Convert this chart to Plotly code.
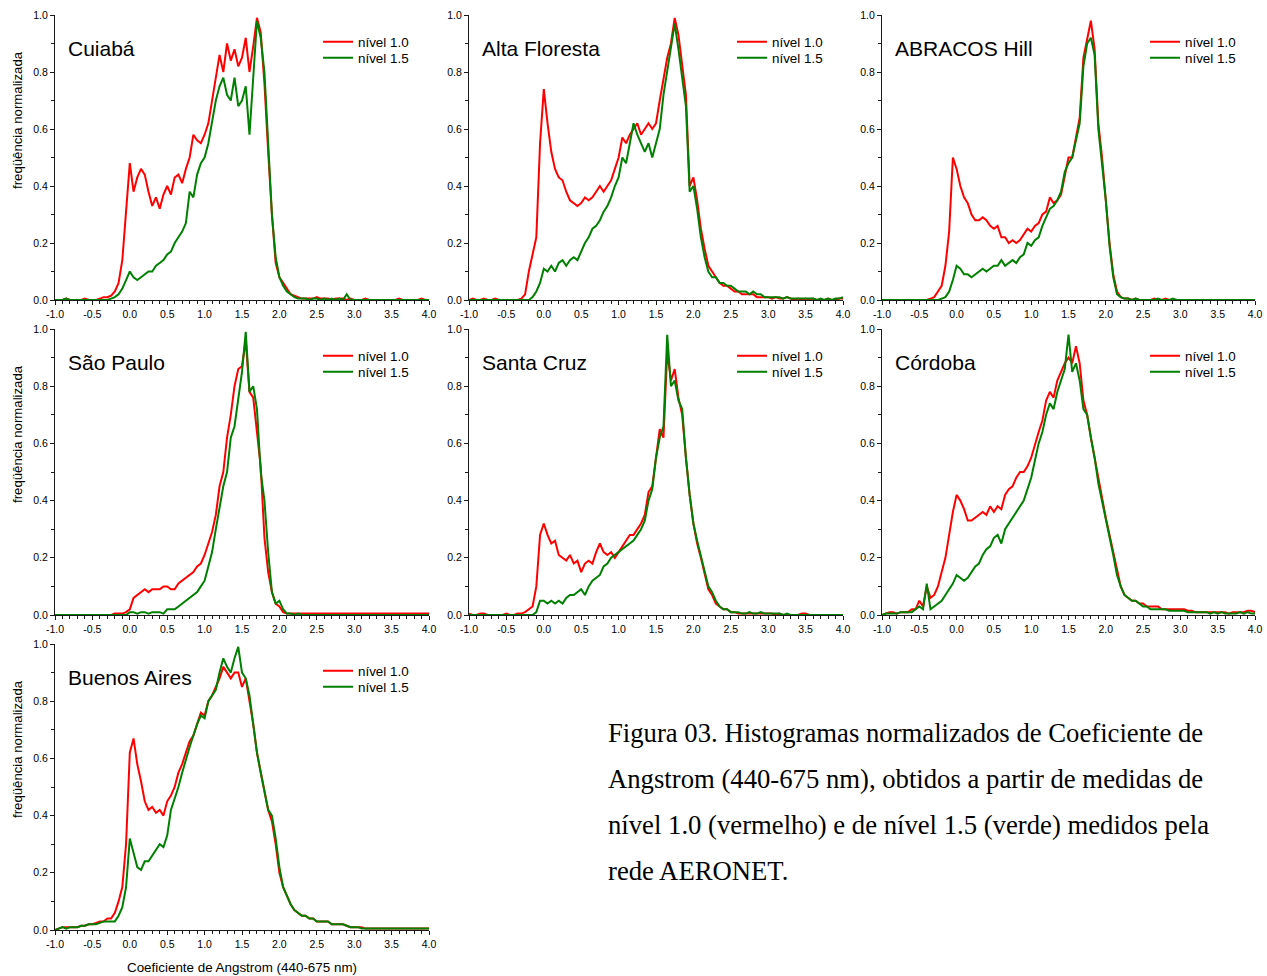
import plotly.graph_objects as go

# Bin centres of the Angstrom coefficient histogram (-1.0 .. 4.0, step 0.05)
angstrom = [round(-1.0 + 0.05 * i, 2) for i in range(101)]

station_names = ["Cuiabá", "Alta Floresta", "ABRACOS Hill", "São Paulo",
                 "Santa Cruz", "Córdoba", "Buenos Aires"]
level_labels = ["nível 1.0", "nível 1.5"]

x_tickvals = [-1.0, -0.5, 0.0, 0.5, 1.0, 1.5, 2.0, 2.5, 3.0, 3.5, 4.0]
x_ticktext = ["-1.0", "-0.5", "0.0", "0.5", "1.0", "1.5", "2.0", "2.5", "3.0", "3.5", "4.0"]
y_tickvals = [0.0, 0.2, 0.4, 0.6, 0.8, 1.0]
y_ticktext = ["0.0", "0.2", "0.4", "0.6", "0.8", "1.0"]

# normalised frequency (x100)
cui_n10 = [0, 0, 0, 0.5, 0, 0, 0, 0, 0.5, 0,
           0, 0, 0.5, 1, 1, 1.5, 3, 6, 14, 30,
           48, 38, 43, 46, 44, 38, 33, 36, 32, 37,
           40, 37, 43, 44, 41, 46, 50, 58, 56, 55,
           58, 62, 70, 77, 86, 80, 90, 84, 88, 82,
           85, 92, 80, 89, 99, 94, 76, 52, 30, 13,
           8, 6, 4, 2, 1.5, 1, 0.5, 0.5, 0.5, 0.5,
           1, 0.5, 0.5, 0.5, 0, 0.5, 0.5, 0.5, 0, 0.5,
           0, 0, 0, 0.5, 0, 0, 0, 0, 0, 0,
           0, 0, 0.5, 0, 0, 0, 0, 0, 0.5, 0,
           0]
cui_n15 = [0, 0, 0, 0.5, 0, 0, 0, 0, 0, 0,
           0, 0, 0, 0, 0, 0.5, 1, 2, 4, 7,
           10, 8, 7, 8, 9, 10, 10, 12, 13, 14,
           16, 17, 20, 22, 24, 27, 38, 36, 44, 48,
           50, 55, 62, 70, 75, 78, 72, 70, 78, 68,
           70, 75, 58, 78, 98, 92, 80, 55, 30, 15,
           8, 5, 3, 2, 1, 0.5, 0.5, 0.5, 0, 0.5,
           0.5, 0, 0.5, 0, 0.5, 0, 0.5, 0, 2, 0,
           0, 0, 0, 0, 0, 0, 0, 0, 0, 0,
           0, 0, 0, 0, 0, 0, 0, 0, 0, 0,
           0]
alt_n10 = [0, 0.5, 0, 0, 0.5, 0, 0, 0.5, 0, 0,
           0, 0, 0, 0, 0.5, 2, 10, 16, 22, 55,
           74, 62, 52, 46, 43, 42, 38, 35, 34, 33,
           34, 36, 35, 36, 38, 40, 38, 40, 42, 46,
           50, 57, 55, 58, 60, 62, 58, 60, 62, 60,
           62, 70, 78, 85, 90, 99, 93, 82, 72, 40,
           43, 35, 25, 18, 12, 10, 8, 6, 5, 5,
           4, 3, 3, 2, 2, 2, 2, 1, 1, 1,
           1, 0.5, 1, 0.5, 0.5, 1, 0.5, 0, 0.5, 0,
           0.5, 0, 0.5, 0, 0, 0, 0.5, 0, 0, 0.5,
           0.5]
alt_n15 = [0, 0, 0, 0, 0, 0, 0, 0, 0, 0,
           0, 0, 0, 0, 0, 0, 0, 1, 3, 6,
           11, 10, 12, 10, 13, 14, 12, 14, 15, 14,
           17, 20, 22, 25, 26, 28, 31, 33, 36, 40,
           43, 50, 48, 55, 62, 58, 55, 52, 55, 50,
           55, 60, 72, 80, 88, 97, 88, 78, 68, 38,
           40, 32, 22, 15, 10, 8, 8, 6, 6, 5,
           5, 4, 3, 3, 3, 2, 3, 2, 2, 1,
           1, 1, 1, 1, 0.5, 1, 0.5, 0.5, 0.5, 0.5,
           0.5, 0.5, 0.5, 0, 0.5, 0, 0.5, 0, 0.5, 0.5,
           1]
abr_n10 = [0, 0, 0, 0, 0, 0, 0, 0, 0, 0,
           0, 0, 0, 0.5, 1, 3, 5, 12, 24, 50,
           46, 40, 36, 34, 30, 28, 28, 29, 28, 26,
           25, 26, 22, 22, 20, 21, 20, 21, 23, 25,
           24, 26, 27, 30, 31, 36, 34, 35, 37, 44,
           50, 50, 57, 64, 85, 92, 98, 88, 62, 50,
           36, 20, 9, 3, 1, 0.5, 0.5, 0, 0.5, 0,
           0, 0, 0, 0.5, 0, 0, 0.5, 0, 0, 0,
           0, 0, 0, 0, 0, 0, 0, 0, 0, 0,
           0, 0, 0, 0, 0, 0, 0, 0, 0, 0,
           0]
abr_n15 = [0, 0, 0, 0, 0, 0, 0, 0, 0, 0,
           0, 0, 0, 0, 0, 0, 0.5, 1, 3, 7,
           12, 11, 9, 9, 8, 9, 10, 11, 10, 11,
           12, 12, 14, 12, 13, 14, 13, 15, 16, 20,
           19, 21, 22, 26, 29, 32, 33, 35, 38, 45,
           48, 50, 56, 62, 82, 90, 92, 86, 60, 48,
           35, 19, 8, 2, 1, 0.5, 0.5, 0, 0.5, 0,
           0, 0, 0, 0, 0.5, 0, 0, 0, 0.5, 0,
           0, 0, 0, 0, 0, 0, 0, 0, 0, 0,
           0, 0, 0, 0, 0, 0, 0, 0, 0, 0,
           0]
sao_n10 = [0, 0, 0, 0, 0, 0, 0, 0, 0, 0,
           0, 0, 0, 0, 0, 0, 0.5, 0.5, 0.5, 1,
           2, 6, 7, 8, 9, 8, 9, 9, 9, 10,
           10, 9, 9, 11, 12, 13, 14, 15, 17, 18,
           21, 25, 29, 35, 45, 50, 62, 70, 80, 86,
           87, 96, 78, 76, 65, 52, 27, 15, 8, 4,
           3, 1, 0.5, 0.5, 0.5, 0.5, 0.5, 0.5, 0.5, 0.5,
           0.5, 0.5, 0.5, 0.5, 0.5, 0.5, 0.5, 0.5, 0.5, 0.5,
           0.5, 0.5, 0.5, 0.5, 0.5, 0.5, 0.5, 0.5, 0.5, 0.5,
           0.5, 0.5, 0.5, 0.5, 0.5, 0.5, 0.5, 0.5, 0.5, 0.5,
           0.5]
sao_n15 = [0, 0, 0, 0, 0, 0, 0, 0, 0, 0,
           0, 0, 0, 0, 0, 0, 0, 0, 0, 0,
           1, 1, 0.5, 1, 1, 0.5, 1, 1, 1, 0.5,
           2, 2, 2, 3, 4, 5, 6, 7, 8, 10,
           12, 17, 22, 30, 38, 45, 50, 62, 66, 75,
           85, 99, 78, 80, 72, 50, 40, 22, 8, 4,
           5, 2, 0.5, 0.5, 0, 0.5, 0, 0, 0, 0,
           0, 0, 0, 0, 0, 0, 0, 0, 0, 0,
           0, 0, 0, 0, 0, 0, 0, 0, 0, 0,
           0, 0, 0, 0, 0, 0, 0, 0, 0, 0,
           0]
stc_n10 = [0.5, 0, 0, 0.5, 0.5, 0, 0, 0, 0, 0,
           0.5, 0, 0, 0.5, 0.5, 1, 2, 3, 10, 28,
           32, 28, 25, 26, 21, 20, 19, 21, 18, 19,
           15, 18, 19, 18, 22, 25, 22, 21, 22, 20,
           22, 24, 26, 28, 28, 30, 32, 35, 43, 45,
           55, 65, 62, 92, 82, 86, 76, 70, 55, 42,
           32, 25, 20, 15, 9, 7, 4, 3, 2, 2,
           1, 1, 0.5, 0.5, 0.5, 0.5, 0.5, 0.5, 0.5, 0.5,
           0.5, 0.5, 0, 0.5, 0, 0, 0, 0, 0, 0.5,
           0.5, 0, 0, 0, 0, 0, 0, 0, 0, 0,
           0]
stc_n15 = [0, 0, 0, 0, 0, 0, 0, 0, 0, 0,
           0, 0, 0, 0, 0, 0, 0, 0, 1, 5,
           5, 4, 5, 4, 5, 4, 6, 7, 7, 8,
           9, 7, 10, 12, 13, 14, 17, 18, 20, 21,
           22, 23, 24, 25, 26, 28, 30, 33, 40, 44,
           55, 62, 66, 98, 80, 82, 75, 72, 55, 42,
           32, 26, 21, 15, 10, 8, 5, 3, 2, 2,
           1, 1, 1, 0.5, 0.5, 1, 0.5, 0.5, 1, 0.5,
           0.5, 0.5, 0.5, 0.5, 0, 0.5, 0, 0, 0, 0,
           0, 0, 0, 0, 0, 0, 0, 0, 0, 0,
           0]
cor_n10 = [0, 0.5, 1, 1, 0.5, 1, 1, 1, 2, 2,
           5, 3, 10, 6, 7, 10, 15, 20, 28, 36,
           42, 40, 37, 33, 33, 34, 35, 36, 35, 38,
           36, 38, 37, 42, 44, 45, 48, 50, 50, 52,
           55, 60, 64, 68, 75, 78, 76, 82, 85, 88,
           90, 88, 94, 88, 75, 70, 62, 55, 48, 40,
           34, 28, 22, 15, 10, 7, 6, 5, 5, 4,
           4, 3, 3, 3, 3, 2, 2, 2, 2, 2,
           2, 2, 1.5, 1.5, 1, 1, 1, 1, 1, 1,
           1, 1, 1, 0.5, 1, 1, 1, 1, 1.5, 1.5,
           1]
cor_n15 = [0, 0.5, 0.5, 0.5, 0.5, 1, 1, 1, 1, 2,
           3, 2, 11, 2, 3, 4, 5, 7, 9, 11,
           14, 13, 12, 13, 15, 17, 18, 21, 23, 24,
           27, 28, 25, 30, 32, 34, 36, 38, 40, 44,
           48, 54, 60, 64, 70, 74, 72, 78, 82, 86,
           98, 85, 88, 82, 72, 70, 62, 55, 46, 40,
           34, 27, 21, 14, 10, 7, 6, 5, 5, 4,
           3, 3, 2, 2, 2, 2, 2, 1.5, 1.5, 1.5,
           1.5, 1.5, 1, 1, 1, 1, 1, 1, 0.5, 1,
           0.5, 1, 0.5, 0.5, 0.5, 0.5, 1, 0.5, 1, 0.5,
           0.5]
bue_n10 = [0, 0.5, 1, 1, 1, 1, 1, 1.5, 1.5, 2,
           2, 2.5, 3, 3, 4, 4, 6, 10, 15, 30,
           62, 67, 58, 52, 45, 42, 43, 41, 42, 40,
           45, 47, 50, 55, 58, 62, 66, 68, 72, 76,
           75, 80, 82, 85, 88, 92, 90, 88, 90, 90,
           85, 88, 80, 72, 62, 55, 48, 42, 38, 30,
           20, 15, 12, 9, 7, 6, 5, 5, 4, 4,
           3, 3, 3, 3, 2, 2, 2, 2, 1.5, 1,
           1, 1, 1, 0.5, 0.5, 0.5, 0.5, 0.5, 0.5, 0.5,
           0.5, 0.5, 0.5, 0.5, 0.5, 0.5, 0.5, 0.5, 0.5, 0.5,
           0.5]
bue_n15 = [0, 0.5, 1, 0.5, 1, 1, 1, 1.5, 1.5, 2,
           2, 2, 2.5, 3, 3, 3, 3, 5, 8, 15,
           32, 27, 22, 21, 24, 24, 26, 28, 30, 29,
           33, 42, 46, 50, 55, 60, 64, 68, 72, 75,
           74, 80, 82, 84, 90, 95, 92, 90, 95, 99,
           90, 88, 82, 72, 62, 55, 48, 42, 40, 32,
           22, 15, 12, 9, 7, 6, 5, 5, 4, 4,
           3, 3, 3, 3, 2, 2, 2, 2, 1.5, 1,
           1, 1, 0.5, 0.5, 0.5, 0.5, 0.5, 0.5, 0.5, 0.5,
           0.5, 0.5, 0.5, 0.5, 0.5, 0.5, 0.5, 0.5, 0.5, 0.5,
           0.5]

series = [(cui_n10, cui_n15), (alt_n10, alt_n15), (abr_n10, abr_n15),
          (sao_n10, sao_n15), (stc_n10, stc_n15), (cor_n10, cor_n15),
          (bue_n10, bue_n15)]

caption_lines = [
    "Figura 03. Histogramas normalizados de Coeficiente de",
    "Angstrom (440-675 nm), obtidos a partir de medidas de",
    "nível 1.0 (vermelho) e de nível 1.5 (verde) medidos pela",
    "rede AERONET.",
]

W, H = 1267, 976
RED, GREEN = "#ff0000", "#008000"
FONT = "Liberation Sans, Arial, sans-serif"
AX = "#1a1a1a"

col_px = [(55, 429), (469, 843), (882, 1255)]
row_px = [(15, 300), (329, 615), (644, 930)]
positions = [(0, 0), (0, 1), (0, 2), (1, 0), (1, 1), (1, 2), (2, 0)]

fig = go.Figure()
layout = dict(
    width=W, height=H, margin=dict(l=0, r=0, t=0, b=0, pad=0, autoexpand=False),
    paper_bgcolor="white", plot_bgcolor="white",
    font=dict(family=FONT, color="black"),
    annotations=[],
)

leg_count = 0
for k, ((r, c), name, (s10, s15)) in enumerate(zip(positions, station_names, series), start=1):
    x0, x1 = col_px[c]
    y0, y1 = row_px[r]
    xd = [x0 / W, x1 / W]
    yd = [1 - y1 / H, 1 - y0 / H]
    sfx = "" if k == 1 else str(k)
    ov = str(k + 7)

    for j, (vals, lab, col) in enumerate(((s10, level_labels[0], RED), (s15, level_labels[1], GREEN))):
        leg_count += 1
        leg = "legend" if leg_count == 1 else f"legend{leg_count}"
        fig.add_trace(go.Scatter(
            x=angstrom, y=[v / 100 for v in vals], mode="lines",
            line=dict(color=col, width=2), name=lab,
            xaxis=f"x{sfx}", yaxis=f"y{sfx}", legend=leg, showlegend=True,
        ))
        layout[leg] = dict(
            x=(x0 + 263) / W, xanchor="left",
            y=1 - (y0 + 27 + 16 * j) / H, yanchor="middle",
            bgcolor="rgba(0,0,0,0)", borderwidth=0,
            font=dict(size=13.4, family=FONT, color="black"),
            itemwidth=30,
        )

    common_x = dict(range=[-1, 4], tickmode="array", tickvals=x_tickvals,
                    showgrid=False, zeroline=False, tickcolor=AX, tickwidth=1,
                    showline=True, linecolor=AX, linewidth=1.3)
    common_y = dict(range=[0, 1], tickmode="array", tickvals=y_tickvals,
                    showgrid=False, zeroline=False, tickcolor=AX, tickwidth=1,
                    showline=True, linecolor=AX, linewidth=1.3)

    layout[f"xaxis{sfx}"] = dict(
        common_x, domain=xd, anchor=f"y{sfx}", ticks="outside", ticklen=4,
        ticktext=x_ticktext, tickfont=dict(size=10.5, family=FONT),
        minor=dict(dtick=0.1, tick0=-1, ticks="outside", ticklen=2.5, tickcolor=AX, showgrid=False),
    )
    layout[f"yaxis{sfx}"] = dict(
        common_y, domain=yd, anchor=f"x{sfx}", ticks="outside", ticklen=4,
        ticktext=y_ticktext, tickfont=dict(size=10.5, family=FONT),
        minor=dict(dtick=0.1, tick0=0, ticks="outside", ticklen=2.5, tickcolor=AX, showgrid=False),
    )
    layout[f"xaxis{ov}"] = dict(
        common_x, overlaying=f"x{sfx}", anchor=f"y{sfx}", side="top",
        ticks="inside", ticklen=4, showticklabels=False,
        minor=dict(dtick=0.1, tick0=-1, ticks="inside", ticklen=2.5, tickcolor=AX, showgrid=False),
    )
    layout[f"yaxis{ov}"] = dict(
        common_y, overlaying=f"y{sfx}", anchor=f"x{sfx}", side="right",
        ticks="inside", ticklen=4, showticklabels=False,
        minor=dict(dtick=0.1, tick0=0, ticks="inside", ticklen=2.5, tickcolor=AX, showgrid=False),
    )

    layout["annotations"].append(dict(
        text=name, xref="paper", yref="paper",
        x=(x0 + 11) / W, y=1 - (y0 + 33) / H, xanchor="left", yanchor="middle",
        showarrow=False, font=dict(size=21, family=FONT, color="black"),
    ))
    if c == 0:
        layout["annotations"].append(dict(
            text="freqüência normalizada", xref="paper", yref="paper",
            x=17 / W, y=1 - (y0 + 105) / H, xanchor="center", yanchor="middle",
            textangle=-90, showarrow=False,
            font=dict(size=13.2, family=FONT, color="black"),
        ))

layout["annotations"].append(dict(
    text="Coeficiente de Angstrom (440-675 nm)", xref="paper", yref="paper",
    x=242 / W, y=1 - 967 / H, xanchor="center", yanchor="middle",
    showarrow=False, font=dict(size=13.4, family=FONT, color="black"),
))

for i, line in enumerate(caption_lines):
    layout["annotations"].append(dict(
        text=line, xref="paper", yref="paper",
        x=606 / W, y=1 - (733 + 46 * i) / H, xanchor="left", yanchor="middle",
        showarrow=False,
        font=dict(size=26.7, family="Liberation Serif, Times New Roman, serif", color="black"),
    ))

fig.update_layout(**layout)
fig.write_html("out.html")
